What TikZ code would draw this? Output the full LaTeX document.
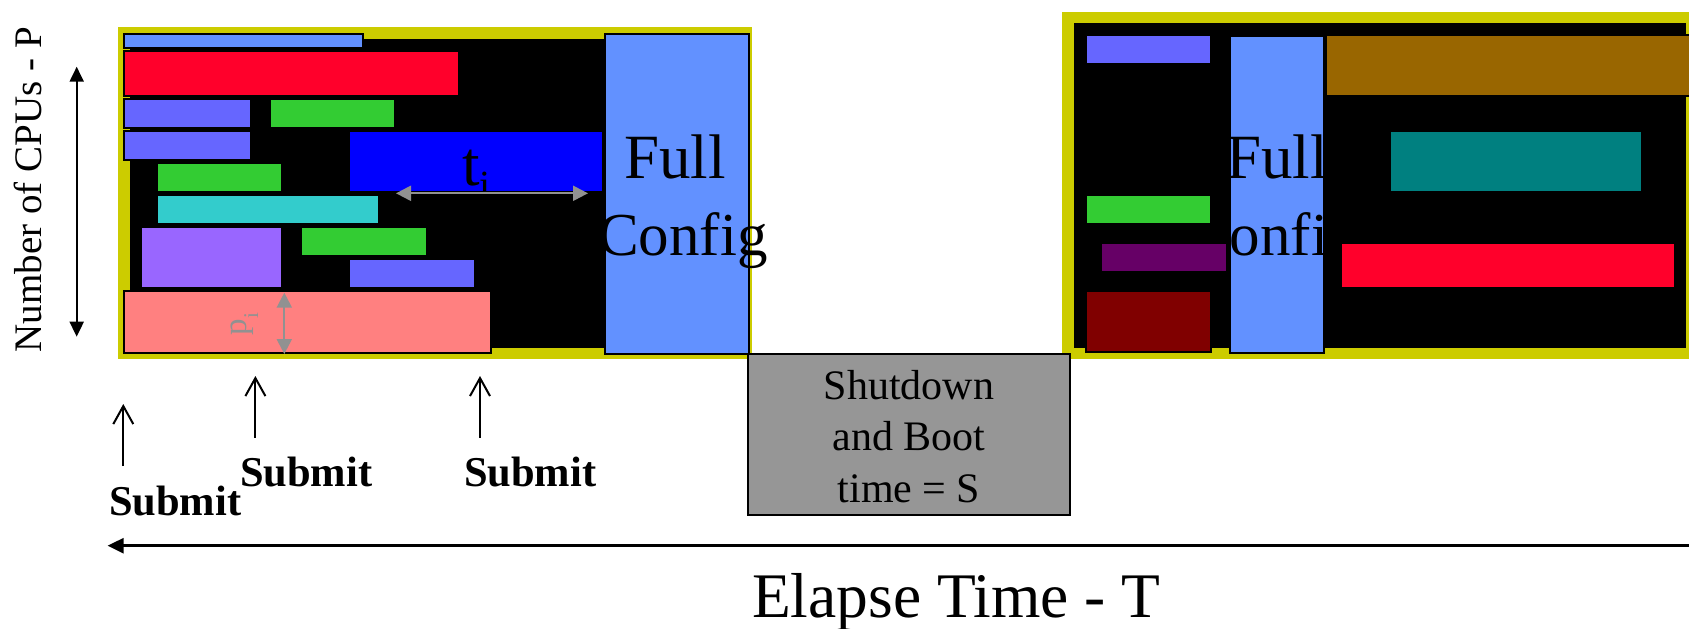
\documentclass[tikz,border=0pt]{standalone}
\usepackage{fontspec}
\setmainfont{Liberation Serif}
\usetikzlibrary{arrows.meta}

\definecolor{frameyellow}{RGB}{204,204,0}
\definecolor{cfgblue}{RGB}{98,145,255}
\definecolor{jobperi}{RGB}{102,102,255}
\definecolor{jobred}{RGB}{255,0,43}
\definecolor{jobgreen}{RGB}{51,204,51}
\definecolor{jobblue}{RGB}{0,0,255}
\definecolor{jobcyan}{RGB}{51,204,204}
\definecolor{jobviolet}{RGB}{153,102,255}
\definecolor{jobpink}{RGB}{255,128,128}
\definecolor{jobbrown}{RGB}{153,102,0}
\definecolor{jobteal}{RGB}{0,128,128}
\definecolor{jobplum}{RGB}{102,0,102}
\definecolor{jobmaroon}{RGB}{128,0,0}
\definecolor{bootgray}{RGB}{150,150,150}
\definecolor{dimgray}{RGB}{145,145,145}

\begin{document}
\begin{tikzpicture}[x=1pt,y=-1pt,
  job/.style={draw=black,line width=2pt},
  lbl/.style={inner sep=0pt,outer sep=0pt},
  cfgfont/.style={font=\fontsize{63}{63}\selectfont},
  cfgfontb/.style={font=\fontsize{61}{61}\selectfont},
  submitlbl/.style={lbl,anchor=base west,font=\fontsize{42.5}{42.5}\selectfont\bfseries},
  submitarrow/.style={line width=2pt,-{Straight Barb[length=18pt,width=20pt]}},
  dimarrow/.style={draw=dimgray,line width=2.2pt,
    {Triangle[length=15pt,width=15pt]}-{Triangle[length=15pt,width=15pt]}},
  axisarrow/.style={line width=2pt,
    {Triangle[length=15pt,width=14pt]}-{Triangle[length=15pt,width=14pt]}}]

\useasboundingbox (0,0) rectangle (1689,629);

% ---------- first configuration ----------
\fill[frameyellow] (117.7,27.3) rectangle (752,359.3);
\fill[black] (129.5,39.3) rectangle (604,348.3);

\path[job,fill=cfgblue]   (124.4,34)    rectangle (363,48.3);
\path[job,fill=jobred]    (124.4,50.7)  rectangle (458.6,96);
\path[job,fill=jobperi]   (124.4,99)    rectangle (250.7,128.3);
\path[job,fill=jobgreen]  (269.6,99)    rectangle (394.6,128.3);
\path[job,fill=jobperi]   (124.4,131)   rectangle (250.7,160);
\path[job,fill=jobblue]   (349,131)     rectangle (603,192.3);
\path[job,fill=jobgreen]  (156.8,163.3) rectangle (282.2,192.3);
\path[job,fill=jobcyan]   (156.8,195)   rectangle (378.6,224);
\path[job,fill=jobviolet] (141.2,226.7) rectangle (282.2,288.3);
\path[job,fill=jobgreen]  (301.2,226.7) rectangle (426.6,256);
\path[job,fill=jobperi]   (349,259)     rectangle (474.6,288.3);
\path[job,fill=jobpink]   (124.4,291)   rectangle (490.6,352.7);

\node[job,fill=cfgblue,anchor=north west,inner sep=0pt,
      minimum width=144.3pt,minimum height=320pt] (cfgA) at (603.8,32.7) {};
\node[lbl,cfgfont,anchor=base] (cfgAfull) at (675,178.3) {Full};
\node[lbl,cfgfontb,anchor=base] (cfgAcfg)  at (683,255) {Config};

% job length t_i
\node[lbl,anchor=base west,font=\fontsize{63}{63}\selectfont] (tlab) at (462,185)
  {t\raisebox{-13pt}{\fontsize{40}{40}\selectfont i}};
\coordinate (tL) at (396,193.3);
\coordinate (tR) at (588,193.3);
\draw[dimarrow] (tL) -- (tR);

% job width p_i
\node[lbl,rotate=90,anchor=base west,text=dimgray,font=\fontsize{33}{33}\selectfont]
  (plab) at (246,335) {p\raisebox{-12pt}{\fontsize{21}{21}\selectfont i}};
\coordinate (pT) at (284.3,292.7);
\coordinate (pB) at (284.3,354);
\draw[dimarrow] (pT) -- (pB);

% ---------- second configuration ----------
\fill[frameyellow] (1062,11.7) rectangle (1700,359.3);
\fill[black] (1073.6,23.3) rectangle (1685.7,348.3);

\path[job,fill=jobperi]   (1085.5,35)    rectangle (1211,64);
\path[job,fill=jobgreen]  (1085.5,195)   rectangle (1211,224);
\path[job,fill=jobplum]   (1101,243.3)   rectangle (1226.5,272.3);
\path[job,fill=jobmaroon] (1085.5,291)   rectangle (1211,351.7);

\node[job,fill=cfgblue,anchor=north west,inner sep=0pt,
      minimum width=94.5pt,minimum height=317.3pt] (cfgB) at (1228.5,35) {};
\begin{scope}
  \clip (cfgB.north west) rectangle (cfgB.south east);
  \node[lbl,cfgfont,anchor=base] (cfgBfull) at (1277,178.3) {Full};
  \node[lbl,cfgfontb,anchor=base] (cfgBcfg)  at (1274,255) {Config};
\end{scope}

\path[job,fill=jobbrown]  (1326,35)     rectangle (1700,96);
\path[job,fill=jobteal]   (1389.5,131)  rectangle (1642,192.3);
\path[job,fill=jobred]    (1341.4,243.3) rectangle (1674.7,287.7);

% ---------- reconfiguration gap ----------
\node[draw=black,line width=2pt,fill=bootgray,anchor=north west,inner sep=0pt,
      minimum width=321.4pt,minimum height=160.7pt] (boot) at (747.3,353.3) {};
\node[lbl,align=center,font=\fontsize{42}{51.5}\selectfont,yshift=-1.7pt]
  (boottxt) at (boot.center) {Shutdown\\and Boot\\time = S};

% ---------- axes ----------
\coordinate (yTop) at (76.7,66.7);
\coordinate (yBot) at (76.7,336.7);
\draw[axisarrow] (yTop) -- (yBot);
\node[lbl,rotate=90,anchor=base,font=\fontsize{39}{39}\selectfont] (ylab)
  at (41.7,189.7) {Number of CPUs - P};

\coordinate (tEnd) at (1700,545.7);
\coordinate (tStart) at (107.6,545.7);
\draw[line width=2.5pt,-{Triangle[length=16pt,width=15pt]}] (tEnd) -- (tStart);
\node[lbl,anchor=base west,font=\fontsize{63.5}{63.5}\selectfont] (xlab)
  at (752,617) {Elapse Time - T};

% ---------- submissions ----------
\coordinate (s1a) at (123.3,466);   \coordinate (s1b) at (123.3,404);
\coordinate (s2a) at (255.4,437.7); \coordinate (s2b) at (255.4,376);
\coordinate (s3a) at (480,437.7);   \coordinate (s3b) at (480,376);
\draw[submitarrow] (s1a) -- (s1b);
\draw[submitarrow] (s2a) -- (s2b);
\draw[submitarrow] (s3a) -- (s3b);
\node[submitlbl] (sub1) at (109,515) {Submit};
\node[submitlbl] (sub2) at (240,486) {Submit};
\node[submitlbl] (sub3) at (464,486) {Submit};

\end{tikzpicture}
\end{document}
